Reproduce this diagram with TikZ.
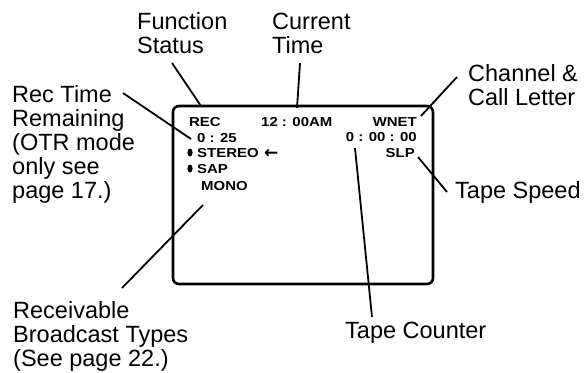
\documentclass[tikz,border=0pt]{standalone}
\usepackage{fontspec}
\setmainfont{Liberation Sans}
\newfontfamily\scrfont{Liberation Sans}[FakeStretch=1.15]
\newfontfamily\arrowfont{DejaVu Sans}
\begin{document}
\begin{tikzpicture}[x=1pt,y=-1pt,
  lbl/.style={font=\fontsize{23.5}{24}\selectfont, align=left, inner sep=0pt, anchor=base west},
  scr/.style={font=\scrfont\bfseries\fontsize{13}{13}\selectfont, inner sep=0pt, anchor=base west},
  scrr/.style={scr, anchor=base east},
  lead/.style={line width=1.8pt},
  screenbox/.style={draw, line width=2.6pt, rounded corners=6pt, inner sep=0pt}]
\useasboundingbox (0,0) rectangle (586,372);

% screen
\node[screenbox, minimum width=260pt, minimum height=178pt] (screen) at (303,195) {};

% screen texts (anchored at the baseline)
\node[scr] (rec) at (189,126) {REC};
\node[scr] (clock) at (261,126) {12 : 00AM};
\node[scrr] (wnet) at (417,126) {WNET};
\node[scr] (remain) at (197,142) {0 : 25};
\node[scrr] (counter) at (417,141) {0 : 00 : 00};
\node[scr] (stereo) at (197,157) {STEREO};
\node[scr] (arrow) at (264,158) {\arrowfont\bfseries\fontsize{17}{17}\selectfont ←};
\node[scrr] (slp) at (415,157) {SLP};
\node[scr] (sap) at (197,173) {SAP};
\node[scr] (mono) at (201,190) {MONO};
\fill (190,152.5) ellipse (2.6pt and 4pt);
\fill (190,168.5) ellipse (2.6pt and 4pt);

% labels (base anchor = baseline of the last line)
\node[lbl] (fs) at (137,53) {Function\\Status};
\node[lbl] (ct) at (272,53) {Current\\Time};
\node[lbl] (ch) at (468,105) {Channel \&\\Call Letter};
\node[lbl] (rt) at (12,198) {Rec Time\\Remaining\\(OTR mode\\only see\\page 17.)};
\node[lbl] (ts) at (455,198) {Tape Speed};
\node[lbl] (tc) at (345,338) {Tape Counter};
\node[lbl] (rb) at (13,366) {Receivable\\Broadcast Types\\(See page 22.)};

% leader end points
\coordinate (fsA) at (172,63);  \coordinate (fsB) at (201,106);
\coordinate (ctA) at (300,63);  \coordinate (ctB) at (297,108);
\coordinate (chA) at (457,77);  \coordinate (chB) at (421,116);
\coordinate (rtA) at (123,93);  \coordinate (rtB) at (191,139);
\coordinate (tsA) at (418,157); \coordinate (tsB) at (447,192);
\coordinate (tcA) at (355,148); \coordinate (tcB) at (372,317);
\coordinate (rbA) at (203,205); \coordinate (rbB) at (122,288);

\draw[lead] (fsA) -- (fsB);
\draw[lead] (ctA) -- (ctB);
\draw[lead] (chA) -- (chB);
\draw[lead] (rtA) -- (rtB);
\draw[lead] (tsA) -- (tsB);
\draw[lead] (tcA) -- (tcB);
\draw[lead] (rbA) -- (rbB);
\end{tikzpicture}
\end{document}
